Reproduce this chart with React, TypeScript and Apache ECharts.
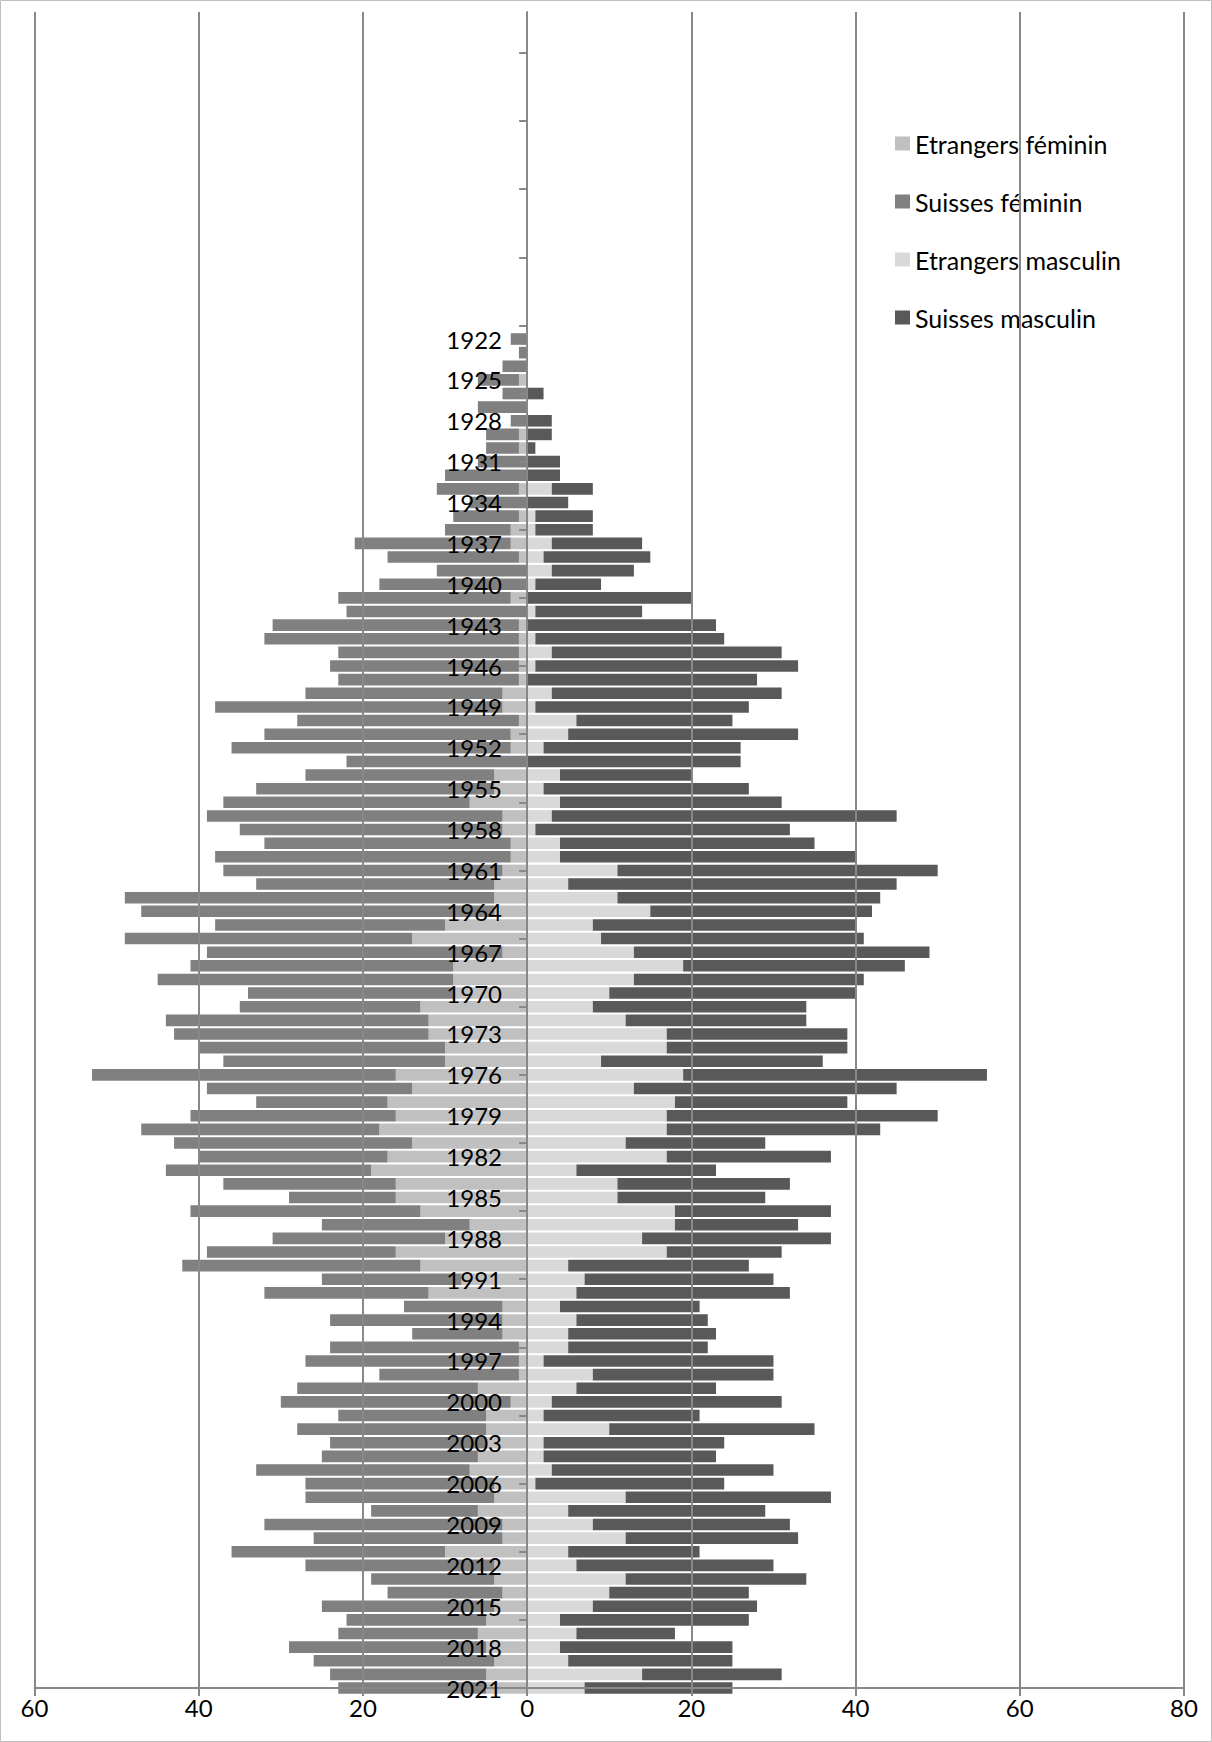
import React, { useEffect, useRef } from "react";
import * as echarts from "echarts";

// Category axis: years (the first 24 carry no data)
const years: string[] = [
  "1898","1899","1900","1901","1902","1903","1904","1905","1906","1907",
  "1908","1909","1910","1911","1912","1913","1914","1915","1916","1917",
  "1918","1919","1920","1921","1922","1923","1924","1925","1926","1927",
  "1928","1929","1930","1931","1932","1933","1934","1935","1936","1937",
  "1938","1939","1940","1941","1942","1943","1944","1945","1946","1947",
  "1948","1949","1950","1951","1952","1953","1954","1955","1956","1957",
  "1958","1959","1960","1961","1962","1963","1964","1965","1966","1967",
  "1968","1969","1970","1971","1972","1973","1974","1975","1976","1977",
  "1978","1979","1980","1981","1982","1983","1984","1985","1986","1987",
  "1988","1989","1990","1991","1992","1993","1994","1995","1996","1997",
  "1998","1999","2000","2001","2002","2003","2004","2005","2006","2007",
  "2008","2009","2010","2011","2012","2013","2014","2015","2016","2017",
  "2018","2019","2020","2021",
];
const emptyYears = 24; // 1898-1921 have no values

// Values 1922 .. 2021
const etrangersFeminin = [
  0,0,0,1,0,0,0,1,1,0,
  0,1,0,1,2,2,1,0,0,2,
  0,1,1,1,1,1,3,3,1,2,
  2,0,4,4,7,3,3,2,2,3,
  4,4,4,10,14,3,9,9,9,13,
  12,12,10,10,16,14,17,16,18,14,
  17,19,16,16,13,7,10,16,13,8,
  12,3,3,3,1,1,1,6,2,5,
  5,5,6,7,4,4,6,3,3,10,
  4,4,3,4,5,6,5,4,5,5,
];
const suissesFeminin = [
  2,1,3,5,3,6,2,4,4,6,
  10,10,7,8,8,19,16,11,18,21,
  22,30,31,22,23,22,24,35,27,30,
  34,22,23,29,30,36,32,30,36,34,
  29,45,43,28,35,36,32,36,25,22,
  32,31,30,27,37,25,16,25,29,29,
  23,25,21,13,28,18,21,23,29,17,
  20,12,21,11,23,26,17,22,28,18,
  23,19,19,26,23,23,13,29,23,26,
  23,15,14,21,17,17,24,22,19,18,
];
const etrangersMasculin = [
  0,0,0,0,0,0,0,0,0,0,
  0,3,0,1,1,3,2,3,1,0,
  1,0,1,3,1,0,3,1,6,5,
  2,0,4,2,4,3,1,4,4,11,
  5,11,15,8,9,13,19,13,10,8,
  12,17,17,9,19,13,18,17,17,12,
  17,6,11,11,18,18,14,17,5,7,
  6,4,6,5,5,2,8,6,3,2,
  10,2,2,3,1,12,5,8,12,5,
  6,12,10,8,4,6,4,5,14,7,
];
const suissesMasculin = [
  0,0,0,0,2,0,3,3,1,4,
  4,5,5,7,7,11,13,10,8,20,
  13,23,23,28,32,28,28,26,19,28,
  24,26,16,25,27,42,31,31,36,39,
  40,32,27,32,32,36,27,28,30,26,
  22,22,22,27,37,32,21,33,26,17,
  20,17,21,18,19,15,23,14,22,23,
  26,17,16,18,17,28,22,17,28,19,
  25,22,21,27,23,25,24,24,21,16,
  24,22,17,20,23,12,21,20,17,18,
];

const seriesNames = ["Etrangers féminin", "Suisses féminin", "Etrangers masculin", "Suisses masculin"];
const seriesColors = ["#c0c0c0", "#808080", "#d9d9d9", "#595959"];

const FONT = "Lato";
const GRID_COLOR = "#888888";
const GRID_LEFT = 34.5;
const LABEL_RIGHT_EDGE = 502; // category labels end just left of the zero axis

function pad(values: number[], sign: number) {
  const lead: (number | null)[] = years.slice(0, emptyYears).map(() => null);
  return lead.concat(values.map((v) => v * sign));
}

function buildOption(): echarts.EChartsOption {
  const dataSets = [
    pad(etrangersFeminin, -1),
    pad(suissesFeminin, -1),
    pad(etrangersMasculin, 1),
    pad(suissesMasculin, 1),
  ];
  return {
    animation: false,
    backgroundColor: "#ffffff",
    grid: {
      left: GRID_LEFT,
      right: 28,
      top: 12,
      bottom: 54,
      containLabel: false,
      outerBoundsMode: "none",
    },
    legend: {
      orient: "vertical",
      left: 890,
      top: 126,
      icon: "rect",
      itemWidth: 15,
      itemHeight: 14,
      itemGap: 33,
      data: seriesNames,
      textStyle: { fontSize: 25, fontFamily: FONT, color: "#000", lineHeight: 25 },
    },
    xAxis: {
      type: "value",
      min: -60,
      max: 80,
      interval: 20,
      z: 10,
      axisLine: { show: true, onZero: false, lineStyle: { color: GRID_COLOR, width: 2 } },
      axisTick: { show: true, length: 8, lineStyle: { color: GRID_COLOR, width: 2 } },
      splitLine: { show: true, lineStyle: { color: GRID_COLOR, width: 2 } },
      axisLabel: {
        formatter: (v: number) => String(Math.abs(v)),
        fontSize: 24,
        fontFamily: FONT,
        color: "#000",
        margin: 7,
      },
    },
    yAxis: {
      type: "category",
      data: years,
      inverse: true,
      boundaryGap: false,
      z: 10,
      axisLine: { show: true, onZero: true, lineStyle: { color: GRID_COLOR, width: 2 } },
      axisTick: {
        show: true,
        length: 8,
        interval: (i: number) => i % 5 === 3,
        lineStyle: { color: GRID_COLOR, width: 2 },
      },
      axisLabel: {
        interval: (i: number) => i >= emptyYears && i % 3 === 0,
        margin: GRID_LEFT - LABEL_RIGHT_EDGE,
        fontSize: 24,
        fontFamily: FONT,
        color: "#000",
      },
      splitLine: { show: false },
    },
    graphic: [
      {
        type: "rect",
        shape: { x: 0.5, y: 0.5, width: 1211, height: 1741 },
        style: { fill: "none", stroke: "#bfbfbf", lineWidth: 1 },
        silent: true,
        z: 100,
      },
    ],
    series: seriesNames.map((name, k) => ({
      name,
      type: "bar",
      stack: "pyramid",
      barWidth: 11.6,
      data: dataSets[k],
      itemStyle: { color: seriesColors[k] },
      emphasis: { disabled: true },
    })),
  } as echarts.EChartsOption;
}

export default function App() {
  const ref = useRef<HTMLDivElement>(null);
  useEffect(() => {
    document.body.style.margin = "0";
    const chart = echarts.init(ref.current as HTMLDivElement, null, { renderer: "svg" });
    chart.setOption(buildOption());
    return () => chart.dispose();
  }, []);
  return <div ref={ref} style={{ width: 1212, height: 1742 }} />;
}
